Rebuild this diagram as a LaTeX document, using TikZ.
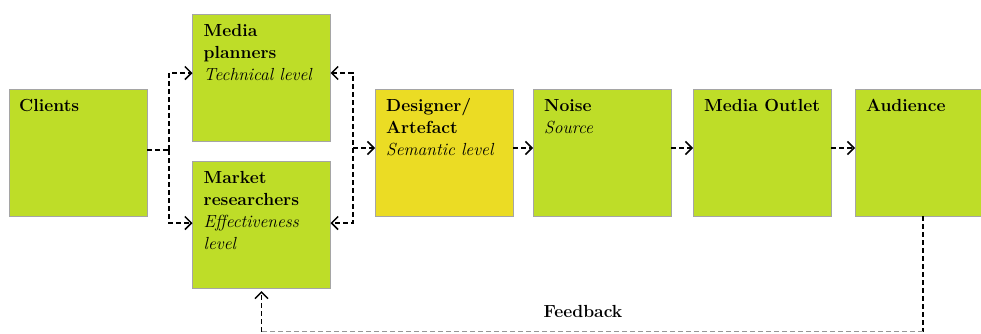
\documentclass[tikz,border=0pt]{standalone}
\usepackage{fontspec}
\setmainfont{Latin Modern Roman}
\usetikzlibrary{arrows.meta}
\definecolor{boxgreen}{RGB}{190,221,40}
\definecolor{boxyellow}{RGB}{235,220,36}
\definecolor{boxline}{RGB}{165,165,165}
\definecolor{fbgray}{RGB}{150,150,150}
\begin{document}
\begin{tikzpicture}[x=1pt,y=-1pt,
  box/.style={draw=boxline, line width=0.8pt, fill=boxgreen, minimum width=138, minimum height=127, inner sep=0pt, outer sep=0pt},
  ybox/.style={box, fill=boxyellow},
  txt/.style={anchor=north west, inner sep=0pt, align=left, font=\fontsize{17.5}{22}\selectfont},
  tip/.tip={Straight Barb[length=6.5pt,width=13pt,line width=1.5pt]},
  plain/.style={line width=1.5pt, dash pattern=on 5pt off 3pt},
  conn/.style={plain, arrows={-tip}},
  both/.style={plain, arrows={tip-tip}}
]
\useasboundingbox (0,0) rectangle (981,333);
\fill[white] (0,0) rectangle (981,333);

\node[box] (clients) at (78,152.5) {};
\node[box] (planners) at (261.5,77.5) {};
\node[box] (researchers) at (261.5,224.5) {};
\node[ybox] (designer) at (444,152.5) {};
\node[box] (noise) at (602,152.5) {};
\node[box] (outlet) at (762,152.5) {};
\node[box] (audience) at (924,152.5) {};

\newcommand{\fs}{\rule{0pt}{13pt}}
\node[txt] (clientsT) at ([shift={(10pt,-9pt)}]clients.north west) {\fs\textbf{Clients}};
\node[txt] (plannersT) at ([shift={(11pt,-9pt)}]planners.north west) {\fs\textbf{Media}\\\textbf{planners}\\\textit{Technical level}};
\node[txt] (researchersT) at ([shift={(11pt,-9pt)}]researchers.north west) {\fs\textbf{Market}\\\textbf{researchers}\\\textit{Effectiveness}\\\textit{level}};
\node[txt] (designerT) at ([shift={(11pt,-9pt)}]designer.north west) {\fs\textbf{Designer/}\\\textbf{Artefact}\\\textit{Semantic level}};
\node[txt] (noiseT) at ([shift={(11pt,-9pt)}]noise.north west) {\fs\textbf{Noise}\\\textit{Source}};
\node[txt] (outletT) at ([shift={(11pt,-9pt)}]outlet.north west) {\fs\textbf{Media Outlet}};
\node[txt] (audienceT) at ([shift={(11pt,-9pt)}]audience.north west) {\fs\textbf{Audience}};

% Clients split
\coordinate (jc) at (169,150);
\draw[plain] ([yshift=2.5pt]clients.east) -- (jc);
\draw[conn] (jc) |- ([yshift=4.5pt]planners.west);
\draw[conn] (jc) |- ([yshift=1.5pt]researchers.west);

% Designer bracket
\coordinate (jd) at (353,148);
\draw[both] ([yshift=4.5pt]planners.east) -| (jd) |- ([yshift=1.5pt]researchers.east);
\draw[conn] (jd) -- ([yshift=4.5pt]designer.west);

% Main chain
\draw[conn] ([yshift=4.5pt]designer.east) -- ([yshift=4.5pt]noise.west);
\draw[conn] ([yshift=4.5pt]noise.east) -- ([yshift=4.5pt]outlet.west);
\draw[conn] ([yshift=4.5pt]outlet.east) -- ([yshift=4.5pt]audience.west);

% Feedback loop
\coordinate (fa) at (923,331.5);
\coordinate (fb) at (261.5,331.5);
\draw[plain] ([xshift=-1pt]audience.south) -- (fa);
\draw[line width=1.2pt, dash pattern=on 5pt off 3pt, fbgray] (fa) -- (fb);
\draw[conn, shorten >=3pt] (fb) -- (researchers.south);
\node[font=\fontsize{17.5}{22}\selectfont\bfseries, inner sep=0pt] (fbT) at (583,311) {Feedback};
\end{tikzpicture}
\end{document}
